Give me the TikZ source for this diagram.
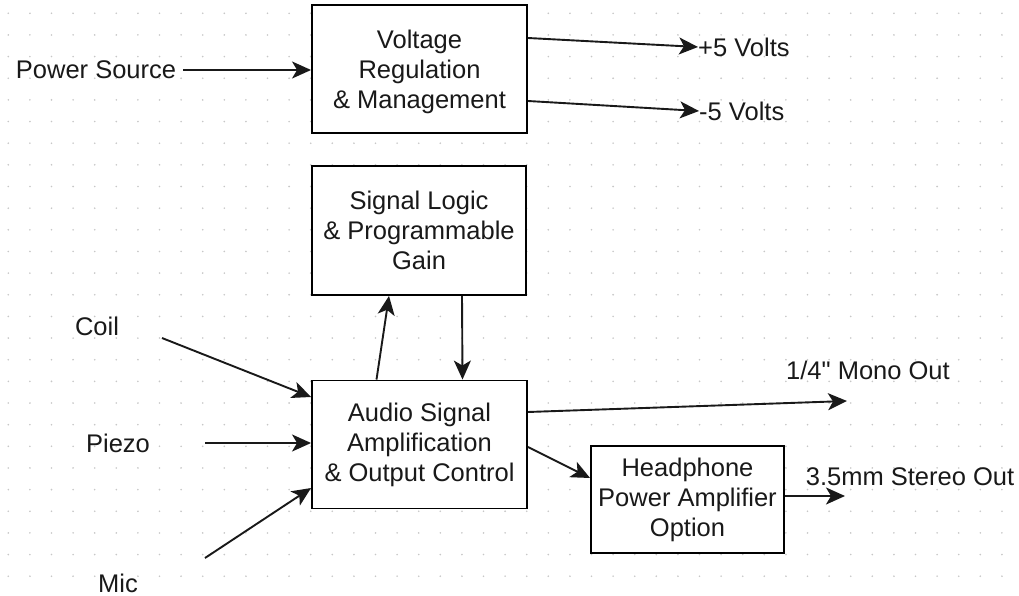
\documentclass[tikz,border=0pt]{standalone}
\usepackage{fontspec}
\setmainfont{Liberation Sans}
\newfontfamily\rawsans{Liberation Sans}
\usetikzlibrary{arrows.meta}
\tikzset{
  blk/.style={draw=black, line width=1.9pt, fill=white, align=center, inner sep=2pt,
              font=\fontsize{25.5}{30}\selectfont, text=black!90},
  blktext/.style={align=center, inner sep=0pt, font=\fontsize{25.5}{30}\selectfont, text=black!90},
  lbl/.style={font=\fontsize{25.5}{30}\selectfont, text=black!90, inner sep=0pt},
  conn/.style={draw=black!90, line width=1.9pt, -{Stealth[length=19pt,width=17pt,inset=5pt]}},
  griddot/.style={fill=black!22}
}
\begin{document}
\begin{tikzpicture}[x=1pt,y=-1pt]
\useasboundingbox (0,0) rectangle (1019,596);
\fill[white] (0,0) rectangle (1019,596);
% dotted grid
\foreach \i in {0,...,47}{
  \foreach \j in {0,...,27}{
    \fill[griddot] ({8.3+21.6*\i},{13.3+21.65*\j}) circle (0.9pt);
  }
}
% blocks
\node[blk, minimum width=215pt, minimum height=128pt,
      label={[blktext, yshift=-3pt]center:{Voltage\\Regulation\\\& Management}}] (vr) at (419.5,69) {};
\node[blk, minimum width=214pt, minimum height=129pt] (sl) at (419,230.5) {Signal Logic\\\& Programmable\\Gain};
\node[blk, minimum width=215pt, minimum height=128pt] (as) at (419.5,444.5) {Audio Signal\\Amplification\\\& Output Control};
\node[blk, minimum width=193pt, minimum height=107pt] (hp) at (687.5,499.5) {Headphone\\Power Amplifier\\Option};
% labels
\node[lbl] (ps) at (96,70) {Power Source};
\node[lbl, anchor=west] (p5) at (698,47) {+5 Volts};
\node[lbl, anchor=west] (m5) at (699,111) {-5 Volts};
\node[lbl] (coil) at (97,326) {Coil};
\node[lbl] (piezo) at (118,443) {Piezo};
\node[lbl] (mic) at (118,583) {Mic};
\node[lbl] (mono) at (868,370) {1/4{\rawsans"} Mono Out};
\node[lbl] (stereo) at (910,477) {3.5mm Stereo Out};
% free ends
\coordinate (coilS) at (162,338);
\coordinate (piezoS) at (205,443);
\coordinate (micS) at (205,558);
\coordinate (monoE) at (847,401);
\coordinate (stereoE) at (845,496);
% connectors
\draw[conn] ([xshift=7pt]ps.east) -- ([yshift=-1pt]vr.west);
\draw[conn] ([yshift=31pt]vr.east) -- (p5.west);
\draw[conn] ([yshift=-32pt]vr.east) -- (m5.west);
\draw[conn] (coilS) -- ([yshift=47.5pt]as.west);
\draw[conn] (piezoS) -- ([yshift=1.5pt]as.west);
\draw[conn] (micS) -- ([yshift=-43.5pt]as.west);
\draw[conn] ([xshift=-43pt]as.north) -- ([xshift=-30pt]sl.south);
\draw[conn] ([xshift=43pt]sl.south) -- ([xshift=43pt]as.north);
\draw[conn] ([yshift=32.5pt]as.east) -- (monoE);
\draw[conn] ([yshift=-2.5pt]as.east) -- ([yshift=21.5pt]hp.west);
\draw[conn] ([yshift=3.5pt]hp.east) -- (stereoE);
\end{tikzpicture}
\end{document}
